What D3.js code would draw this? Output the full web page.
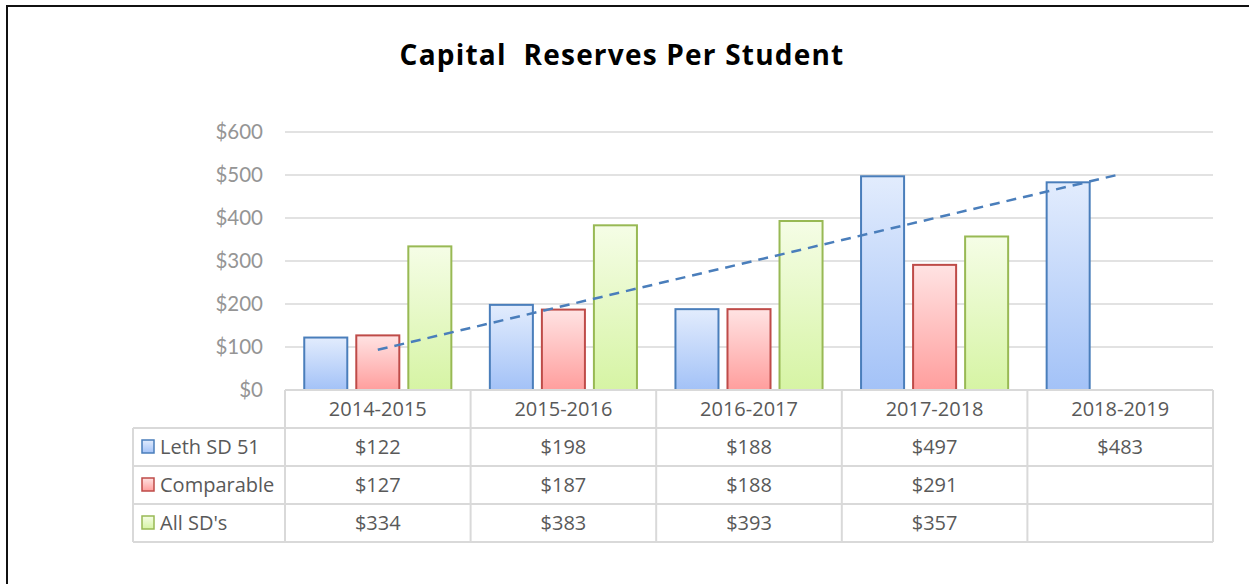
<!DOCTYPE html>
<html>
<head>
<meta charset="utf-8">
<script src="https://cdn.jsdelivr.net/npm/d3@7"></script>
<style>
  body { margin: 0; background: #fff; }
  svg text { font-family: "Open Sans", "Liberation Sans", sans-serif; }
</style>
</head>
<body>
<div id="canvas"></div>
<script>
"use strict"

// chart data
let years = ["2014-2015", "2015-2016", "2016-2017", "2017-2018", "2018-2019"]
let seriesNames = ["Leth SD 51", "Comparable", "All SD's"]
let lethValues = [122, 198, 188, 497, 483]
let comparableValues = [127, 187, 188, 291, null]
let allSdValues = [334, 383, 393, 357, null]
let yTicks = [0, 100, 200, 300, 400, 500, 600]

let seriesValues = [lethValues, comparableValues, allSdValues]

let drawing = d3.select("#canvas")
    .append("svg")
    .attr("width", 1249)
    .attr("height", 584)

let defs = drawing.append("defs")

// gradients per series: top colour, bottom colour, stroke
let looks = [
    { top: "#e2ecfd", bottom: "#a3c2f7", stroke: "#4a7ebb" },
    { top: "#ffe3e3", bottom: "#ff9e9d", stroke: "#be4b48" },
    { top: "#f5fde6", bottom: "#d6f4a4", stroke: "#98b954" }
]

looks.forEach((l, i) => {
    let g = defs.append("linearGradient")
        .attr("id", "grad" + i)
        .attr("x1", 0).attr("y1", 0).attr("x2", 0).attr("y2", 1)
    g.append("stop").attr("offset", "0%").attr("stop-color", l.top)
    g.append("stop").attr("offset", "100%").attr("stop-color", l.bottom)
})

// outer frame (runs off the right and bottom of the picture)
drawing.append("rect")
    .attr("x", 7)
    .attr("y", 6)
    .attr("width", 1260)
    .attr("height", 600)
    .attr("fill", "none")
    .attr("stroke", "#111")
    .attr("stroke-width", 2)

drawing.append("text")
    .attr("x", 622)
    .attr("y", 65)
    .attr("text-anchor", "middle")
    .attr("font-size", 28)
    .attr("font-weight", "bold")
    .attr("letter-spacing", 1.2)
    .attr("fill", "#000")
    .attr("xml:space", "preserve")
    .text("Capital  Reserves Per Student")

let plotLeft = 285, plotRight = 1213, plotTop = 132, plotBottom = 390

let x = d3.scaleBand()
    .domain(years)
    .range([plotLeft, plotRight])

let xInner = d3.scaleBand()
    .domain(seriesNames)
    .range([0, x.bandwidth()])
    .paddingInner(0.173)
    .paddingOuter(0.37)

let y = d3.scaleLinear()
    .domain([0, 600])
    .range([plotBottom, plotTop])

// gridlines
drawing.append("g")
    .selectAll("line")
    .data(yTicks)
    .join("line")
    .attr("x1", plotLeft)
    .attr("x2", plotRight)
    .attr("y1", d => y(d))
    .attr("y2", d => y(d))
    .attr("stroke", "#d9d9d9")
    .attr("stroke-width", 1.5)

// y tick labels
drawing.append("g")
    .selectAll("text")
    .data(yTicks)
    .join("text")
    .attr("x", 263)
    .attr("y", d => y(d) + 7)
    .attr("text-anchor", "end")
    .attr("font-size", 20.5)
    .style("font-family", "Lato, sans-serif")
    .attr("fill", "#959595")
    .text(d => "$" + d)

// bars
let barData = []
seriesNames.forEach((s, si) => {
    years.forEach((yr, yi) => {
        let v = seriesValues[si][yi]
        if (v != null) barData.push({ series: s, si: si, year: yr, value: v })
    })
})

drawing.append("g")
    .selectAll("rect")
    .data(barData)
    .join("rect")
    .attr("x", d => x(d.year) + xInner(d.series))
    .attr("y", d => y(d.value))
    .attr("width", xInner.bandwidth())
    .attr("height", d => y(0) - y(d.value))
    .attr("fill", d => "url(#grad" + d.si + ")")
    .attr("stroke", d => looks[d.si].stroke)
    .attr("stroke-width", 2)

// linear trendline of Leth SD 51
let pts = lethValues.map((v, i) => [i + 1, v])
let n = pts.length
let mx = d3.mean(pts, p => p[0])
let my = d3.mean(pts, p => p[1])
let slope = d3.sum(pts, p => (p[0] - mx) * (p[1] - my)) / d3.sum(pts, p => (p[0] - mx) ** 2)
let intercept = my - slope * mx

drawing.append("line")
    .attr("x1", x(years[0]) + x.bandwidth() / 2)
    .attr("y1", y(intercept + slope * 1))
    .attr("x2", x(years[n - 1]) + x.bandwidth() / 2)
    .attr("y2", y(intercept + slope * n))
    .attr("stroke", "#4a7ebb")
    .attr("stroke-width", 2.5)
    .attr("stroke-dasharray", "10,7")

// data table
let rowH = 38
let headTop = plotBottom
let tableLeft = 133
let table = drawing.append("g")
let gridColor = "#d9d9d9"
let cellFont = 20

// horizontal lines
table.append("line")
    .attr("x1", plotLeft).attr("x2", plotRight)
    .attr("y1", headTop).attr("y2", headTop)
    .attr("stroke", gridColor).attr("stroke-width", 2)
d3.range(1, 5).forEach(r => {
    table.append("line")
        .attr("x1", tableLeft).attr("x2", plotRight)
        .attr("y1", headTop + r * rowH).attr("y2", headTop + r * rowH)
        .attr("stroke", gridColor).attr("stroke-width", 2)
})

// vertical lines
years.concat(["end"]).forEach((yr, i) => {
    let xx = i < years.length ? x(yr) : plotRight
    table.append("line")
        .attr("x1", xx).attr("x2", xx)
        .attr("y1", headTop).attr("y2", headTop + 4 * rowH)
        .attr("stroke", gridColor).attr("stroke-width", 2)
})
table.append("line")
    .attr("x1", tableLeft).attr("x2", tableLeft)
    .attr("y1", headTop + rowH).attr("y2", headTop + 4 * rowH)
    .attr("stroke", gridColor).attr("stroke-width", 2)

// header labels
table.selectAll(".head")
    .data(years)
    .join("text")
    .attr("x", d => x(d) + x.bandwidth() / 2)
    .attr("y", headTop + rowH / 2 + 7)
    .attr("text-anchor", "middle")
    .attr("font-size", cellFont)
    .attr("fill", "#595959")
    .text(d => d)

// row labels with legend keys
seriesNames.forEach((s, si) => {
    let rowY = headTop + (si + 1) * rowH
    table.append("rect")
        .attr("x", 142)
        .attr("y", rowY + rowH / 2 - 7)
        .attr("width", 12)
        .attr("height", 13)
        .attr("fill", "url(#grad" + si + ")")
        .attr("stroke", looks[si].stroke)
        .attr("stroke-width", 1.5)
    table.append("text")
        .attr("x", 160)
        .attr("y", rowY + rowH / 2 + 7)
        .attr("font-size", cellFont)
        .attr("fill", "#595959")
        .text(s)
    table.append("g")
        .selectAll("text")
        .data(seriesValues[si].map((v, yi) => ({ v: v, year: years[yi] })).filter(d => d.v != null))
        .join("text")
        .attr("x", d => x(d.year) + x.bandwidth() / 2)
        .attr("y", rowY + rowH / 2 + 7)
        .attr("text-anchor", "middle")
        .attr("font-size", cellFont)
        .attr("fill", "#595959")
        .text(d => "$" + d.v)
})
</script>
</body>
</html>
